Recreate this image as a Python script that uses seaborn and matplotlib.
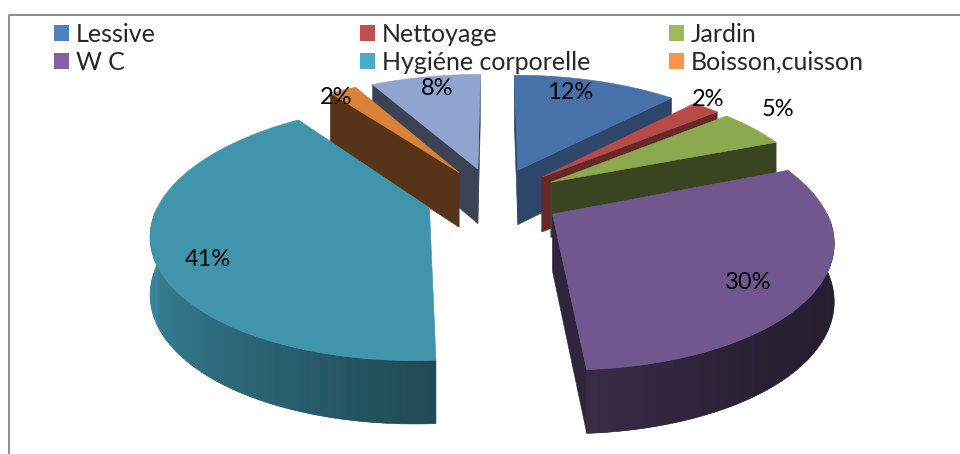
import numpy as np
import matplotlib
matplotlib.use("Agg")
import matplotlib.pyplot as plt
from matplotlib.patches import Polygon, Rectangle, Patch
import matplotlib.colors as mcolors
import seaborn as sns

# ---------------- data ----------------
categories = ["Lessive", "Nettoyage", "Jardin", "W C", "Hygiéne corporelle",
              "Boisson,cuisson", "Autre"]
values = [12, 2, 5, 30, 41, 2, 8]
pct_labels = ["12%", "2%", "5%", "30%", "41%", "2%", "8%"]
legend_count = 6  # the legend lists the first six categories

# ---------------- style ----------------
legend_colors = ["#4F81BD", "#C0504D", "#9BBB59", "#8064A2", "#4BACC6", "#F79646"]
top_colors = ["#4671A9", "#B84A48", "#8CA950", "#71578E", "#4094AB", "#D9823A", "#8FA4CE"]
wall_shade = [0.63, 0.56, 0.41, 0.42, 0.45, 0.40, 0.41]
label_rho = [0.75, 1.05, 1.15, 0.75, 0.80, 1.15, 0.75]
label_nudge = [(-9, -8), (-5, -5), (-3, -11), (3, 13), (-3, 16), (8, 18), (0, -9)]

sns.set_theme(style="white")
plt.rcParams['font.family'] = ['Lato', 'DejaVu Sans']

W, H = 960, 454
fig = plt.figure(figsize=(W / 100, H / 100), dpi=100)
ax = fig.add_axes([0, 0, 1, 1])
ax.axis('off')

# chart frame (gray border, cut by the image edges)
ax.add_patch(Rectangle((9, 15), W, H, fill=False, edgecolor="#8C8C8C", lw=1.4, zorder=0))

# ---------------- 3D pie projection ----------------
CX, CY = 494.0, 197.4
RX, RY = 268.0, 121.0
K = 0.18          # perspective along depth
EXPLODE = 0.252
DEPTH = 55.9
K2 = 0.109
CAM_Y = -4.5


def proj(X, Y, bottom=False):
    X = np.asarray(X, float)
    Y = np.asarray(Y, float)
    s = 1 + K * Y
    x = CX + RX * X / s
    y = CY - RY * Y / s
    if bottom:
        y = y + DEPTH / (1 + K2 * Y)
    return x, y


def shade(color, f):
    r, g, b = mcolors.to_rgb(color)
    return (min(r * f, 1), min(g * f, 1), min(b * f, 1))


def curved_factor(th):
    return 0.65 - 0.28 * np.sin(th) + 0.13 * np.cos(th)


vals = np.array(values, float)
frac = vals / vals.sum()
cum = np.concatenate([[0], np.cumsum(frac)]) * 2 * np.pi

slices = []
for i in range(len(values)):
    t1, t2 = cum[i], cum[i + 1]
    m = (t1 + t2) / 2
    ox, oy = EXPLODE * np.sin(m), EXPLODE * np.cos(m)
    slices.append((i, t1, t2, m, ox, oy))

order = sorted(slices, key=lambda s: -s[5])
z = 1
for (i, t1, t2, m, ox, oy) in order:
    top = top_colors[i]
    wall = shade(top, wall_shade[i])
    # radial walls
    for te, sign in ((t1, -1), (t2, 1)):
        n = np.array([sign * np.cos(te), -sign * np.sin(te)])
        v = np.array([0 - ox, CAM_Y - oy])
        if n @ v > 0:
            Xs = [ox, ox + np.sin(te)]
            Ys = [oy, oy + np.cos(te)]
            xt, yt = proj(Xs, Ys)
            xb, yb = proj(Xs, Ys, bottom=True)
            pts = [(xt[0], yt[0]), (xt[1], yt[1]), (xb[1], yb[1]), (xb[0], yb[0])]
            ax.add_patch(Polygon(pts, closed=True, facecolor=wall, edgecolor=wall,
                                 lw=0.4, zorder=z))
            z += 1
    # curved outer wall (front half) with a smooth shading gradient
    a0, a1 = max(t1, np.pi / 2), min(t2, 3 * np.pi / 2)
    if a1 > a0:
        th = np.linspace(a0, a1, 200)
        Xs = ox + np.sin(th)
        Ys = oy + np.cos(th)
        xt, yt = proj(Xs, Ys)
        xb, yb = proj(Xs, Ys, bottom=True)
        pts = list(zip(xt, yt)) + list(zip(xb[::-1], yb[::-1]))
        mid = shade(top, float(curved_factor((a0 + a1) / 2)))
        wall_poly = Polygon(pts, closed=True, facecolor=mid, edgecolor=mid,
                            lw=0.4, zorder=z)
        ax.add_patch(wall_poly)
        x_lo, x_hi = float(np.min(xt)), float(np.max(xt))
        y_lo, y_hi = float(np.min(yt)), float(np.max(yb))
        xs = np.linspace(x_lo, x_hi, 300)
        srt = np.argsort(xt)
        th_x = np.interp(xs, xt[srt], th[srt])
        img = np.array([[shade(top, float(curved_factor(t))) for t in th_x]])
        im = ax.imshow(img, extent=(x_lo, x_hi, y_hi, y_lo), origin='upper',
                       aspect='auto', interpolation='bilinear', zorder=z + 0.5)
        im.set_clip_path(wall_poly)
        z += 1
    # top face
    th = np.linspace(t1, t2, 120)
    Xs = np.concatenate([[ox], ox + np.sin(th)])
    Ys = np.concatenate([[oy], oy + np.cos(th)])
    xt, yt = proj(Xs, Ys)
    ax.add_patch(Polygon(list(zip(xt, yt)), closed=True, facecolor=top,
                         edgecolor=top, lw=0.4, zorder=z))
    z += 1

# percentage labels
for (i, t1, t2, m, ox, oy) in slices:
    r = label_rho[i]
    lx, ly = proj(ox + r * np.sin(m), oy + r * np.cos(m))
    dx, dy = label_nudge[i]
    ax.text(float(lx) + dx, float(ly) + dy, pct_labels[i], ha='center', va='center',
            fontsize=17, color='black', zorder=100)

ax.set_xlim(0, W)
ax.set_ylim(H, 0)

# legend: three columns of two rows
col_x = [54, 360, 669]
for j in range(3):
    idx = [j, j + 3]
    handles = [Patch(facecolor=legend_colors[k], edgecolor='none') for k in idx]
    labs = [categories[k] for k in idx]
    fig.legend(handles, labs, loc='upper left',
               bbox_to_anchor=(col_x[j] / W, 1 - 23 / H),
               bbox_transform=fig.transFigure, frameon=False, fontsize=18,
               handlelength=0.6, handleheight=0.6, handletextpad=0.28,
               labelspacing=0.18, borderpad=0, borderaxespad=0)

fig.savefig("out.png", dpi=100)
